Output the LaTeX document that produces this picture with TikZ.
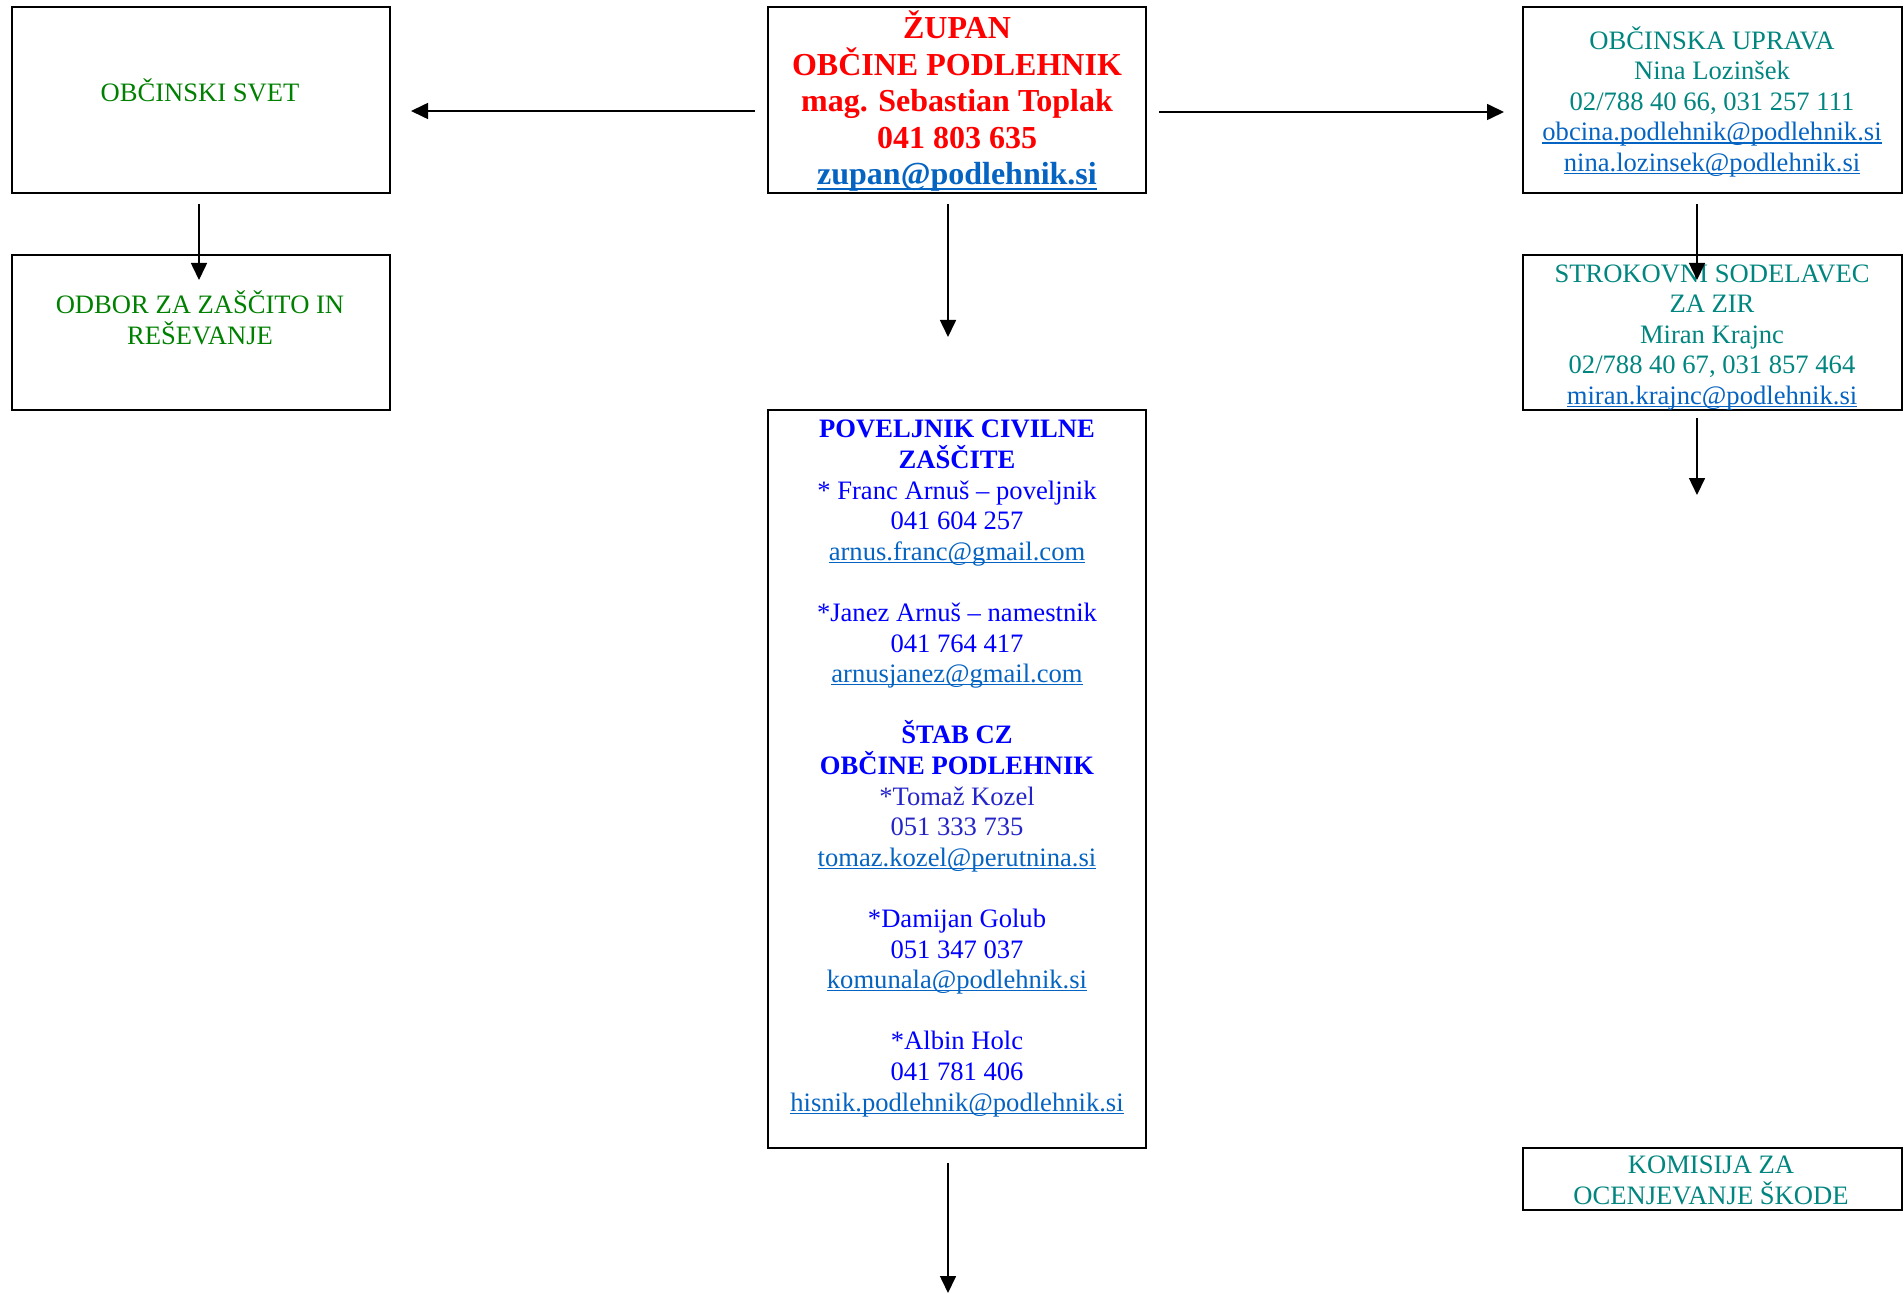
\documentclass[tikz,border=0pt]{standalone}
\usepackage{fontspec}
\setmainfont{Liberation Serif}
\usetikzlibrary{arrows.meta}
\definecolor{svgreen}{HTML}{008000}
\definecolor{svteal}{HTML}{00857F}
\definecolor{svred}{HTML}{FF0000}
\definecolor{svblue}{HTML}{0000FF}
\definecolor{svblueb}{HTML}{2424C8}
\definecolor{svlink}{HTML}{0563C1}
\newcommand\lnk[1]{{\color{svlink}\setbox0\hbox{#1}\rlap{\vrule width \wd0 height -0.8pt depth 1.4pt}\box0}}
\newcommand\blnk[1]{{\color{svlink}\setbox0\hbox{#1}\rlap{\vrule width \wd0 height -1.6pt depth 2.8pt}\box0}}
\tikzset{
  box/.style={draw, line width=1.2pt, inner sep=0pt, outer sep=0pt, minimum width=189pt},
  rbox/.style={box, minimum width=189.5pt},
  txt/.style={inner sep=0pt, align=center, anchor=base, font=\fontsize{13.3pt}{15.3pt}\selectfont},
  arr/.style={line width=0.8pt, -{Triangle[length=8.5pt,width=8pt]}},
}
\begin{document}
\begin{tikzpicture}[x=0.5pt,y=-0.5pt]
\useasboundingbox (0,0) rectangle (1904,1294);
% boxes
\node[box, minimum height=93pt] (svet) at (201,100) {};
\node[box, minimum height=77.5pt] (odbor) at (201,332.5) {};
\node[box, minimum height=93pt] (zupan) at (957,100) {};
\node[rbox, minimum height=93pt] (uprava) at (1712.5,100) {};
\node[rbox, minimum height=77.5pt] (strok) at (1712.5,332.5) {};
\node[box, minimum height=369pt] (povel) at (957,779) {};
\node[rbox, minimum height=31pt] (komis) at (1712.5,1179) {};
% texts (anchor = baseline of last line)
\node[txt, text=svgreen] (tsvet) at (200,101.5) {OBČINSKI SVET};
\node[txt, text=svgreen] (todbor) at (200,344) {ODBOR ZA ZAŠČITO IN\\REŠEVANJE};
\node[txt, text=svred, font=\fontsize{16pt}{18.2pt}\selectfont\bfseries] (tzupan) at (957,184.5)
  {ŽUPAN\\OBČINE PODLEHNIK\\mag. Sebastian Toplak\\041 803 635\\\blnk{zupan@podlehnik.si}};
\node[txt, text=svteal] (tuprava) at (1712,171.5)
  {OBČINSKA UPRAVA\\Nina Lozinšek\\02/788 40 66, 031 257 111\\\lnk{obcina.podlehnik@podlehnik.si}\\\lnk{nina.lozinsek@podlehnik.si}};
\node[txt, text=svteal] (tstrok) at (1712,404.5)
  {STROKOVNI SODELAVEC\\ZA ZIR\\Miran Krajnc\\02/788 40 67, 031 857 464\\\lnk{miran.krajnc@podlehnik.si}};
\node[txt, text=svteal] (tkomis) at (1711,1204)
  {KOMISIJA ZA\\OCENJEVANJE ŠKODE};
\node[txt, text=svblue] (tpovel) at (957,1111)
  {\textbf{POVELJNIK CIVILNE}\\\textbf{ZAŠČITE}\\* Franc Arnuš – poveljnik\\041 604 257\\\lnk{arnus.franc@gmail.com}\\~\\
   *Janez Arnuš – namestnik\\041 764 417\\\lnk{arnusjanez@gmail.com}\\~\\
   \textbf{ŠTAB CZ}\\\textbf{OBČINE PODLEHNIK}\\\textcolor{svblueb}{*Tomaž Kozel}\\\textcolor{svblueb}{051 333 735}\\\lnk{tomaz.kozel@perutnina.si}\\~\\
   *Damijan Golub\\051 347 037\\\lnk{komunala@podlehnik.si}\\~\\
   *Albin Holc\\041 781 406\\\lnk{hisnik.podlehnik@podlehnik.si}};
% free ends
\coordinate (pend) at (948,1293);
\coordinate (send) at (1697,495);
% connectors
\draw[arr] ([xshift=-6.5pt,yshift=-5.5pt]zupan.west) -- ([xshift=10.5pt,yshift=-5.5pt]svet.east);
\draw[arr] ([xshift=6.5pt,yshift=-6pt]zupan.east) -- ([xshift=-9.5pt,yshift=-6pt]uprava.west);
\draw[arr] ([xshift=-1pt,yshift=-5.5pt]svet.south) -- ([xshift=-1pt,yshift=-12.5pt]odbor.north);
\draw[arr] ([xshift=-4.5pt,yshift=-5.5pt]zupan.south) -- ([xshift=-4.5pt,yshift=36.5pt]povel.north);
\draw[arr] ([xshift=-4.5pt,yshift=-7.5pt]povel.south) -- (pend);
\draw[arr] ([xshift=-7.75pt,yshift=-5.5pt]uprava.south) -- ([xshift=-7.75pt,yshift=-12.5pt]strok.north);
\draw[arr] ([xshift=-7.75pt,yshift=-4pt]strok.south) -- (send);
\end{tikzpicture}
\end{document}
